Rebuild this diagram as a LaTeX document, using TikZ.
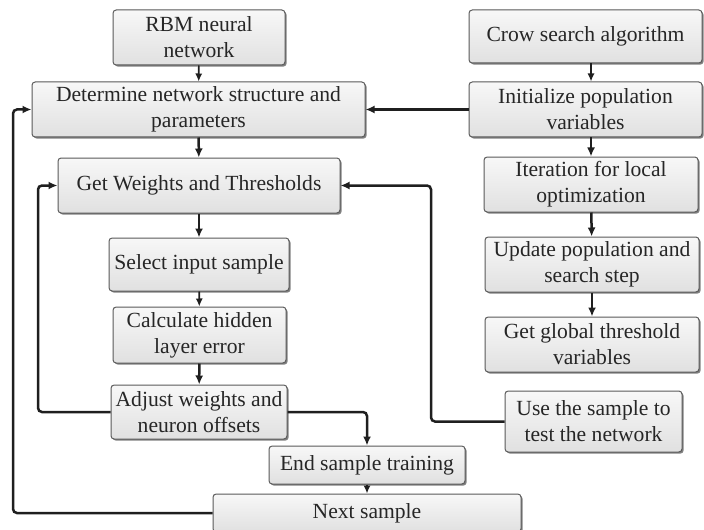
\documentclass[tikz,border=0pt]{standalone}
\usepackage{fontspec}
\setmainfont{Liberation Serif}
\usetikzlibrary{arrows.meta,shadows}
\begin{document}
\begin{tikzpicture}[x=0.5pt,y=-0.5pt,
  box/.style={draw=black!65, line width=0.5pt, rounded corners=1.6pt,
    top color=gray!6, bottom color=gray!24, inner sep=0pt, align=center,
    font=\fontsize{10.8}{13}\selectfont, text=black!85,
    drop shadow={shadow xshift=0.8pt, shadow yshift=-0.8pt, fill=black!55, opacity=0.9}},
  thickarr/.style={draw=black!88, line width=1.25pt, rounded corners=2pt,
    -{Latex[length=4.5pt,width=4pt]}},
  thinarr/.style={draw=black!88, line width=0.8pt,
    -{Latex[length=4pt,width=3.6pt]}}]
\useasboundingbox (0,0) rectangle (704,529);
% left column
\node[box, minimum width=86pt, minimum height=27.5pt] (rbm) at (199,37.5) {RBM neural\\network};
\node[box, minimum width=166.5pt, minimum height=27.5pt] (det) at (198.5,109.5) {Determine network structure and\\parameters};
\node[box, minimum width=141pt, minimum height=27.5pt] (gw) at (199,185.5) {Get Weights and Thresholds};
\node[box, minimum width=90pt, minimum height=26.5pt] (sel) at (199,264.5) {Select input sample};
\node[box, minimum width=86.5pt, minimum height=28pt] (calc) at (199.5,335) {Calculate hidden\\layer error};
\node[box, minimum width=88pt, minimum height=27pt] (adj) at (199,412) {Adjust weights and\\neuron offsets};
\node[box, minimum width=98pt, minimum height=19pt] (end) at (367,465) {End sample training};
\node[box, minimum width=154pt, minimum height=19pt] (next) at (367,513) {Next sample};
% right column
\node[box, minimum width=116.5pt, minimum height=26.5pt] (crow) at (585.5,36.5) {Crow search algorithm};
\node[box, minimum width=116.5pt, minimum height=27.5pt] (init) at (585.5,109.5) {Initialize population\\variables};
\node[box, minimum width=107pt, minimum height=27.5pt] (iter) at (591,184.5) {Iteration for local\\optimization};
\node[box, minimum width=107pt, minimum height=27.5pt] (upd) at (592,264.5) {Update population and\\search step};
\node[box, minimum width=107pt, minimum height=27.5pt] (glob) at (592,344.5) {Get global threshold\\variables};
\node[box, minimum width=88.5pt, minimum height=30.5pt] (use) at (593.5,421.5) {Use the sample to\\test the network};
% coordinates for bends
\coordinate (outerx) at (13,0);
\coordinate (innerx) at (38,0);
\coordinate (midx) at (431,0);
% connectors
\draw[thinarr] (rbm) -- (det);
\draw[thickarr] (det) -- (gw);
\draw[thickarr] (gw) -- (sel);
\draw[thinarr] (sel) -- (calc);
\draw[thickarr] (calc) -- (adj);
\draw[thickarr] (adj.east) -| (end.north);
\draw[thinarr] (end) -- (next);
\draw[thickarr] (next.west) -| (outerx |- det.west) -- (det.west);
\draw[thickarr] (adj.west) -| (innerx |- gw.west) -- (gw.west);
\draw[thickarr] (use.west) -| (midx |- gw.east) -- (gw.east);
\draw[thinarr] (crow.south -| iter.north) -- (init.north -| iter.north);
\draw[thickarr] (init.west) -- (det.east);
\draw[thickarr] (init.south -| iter.north) -- (iter.north);
\draw[thickarr] (iter) -- (upd);
\draw[thickarr] (upd) -- (glob);
\end{tikzpicture}
\end{document}
